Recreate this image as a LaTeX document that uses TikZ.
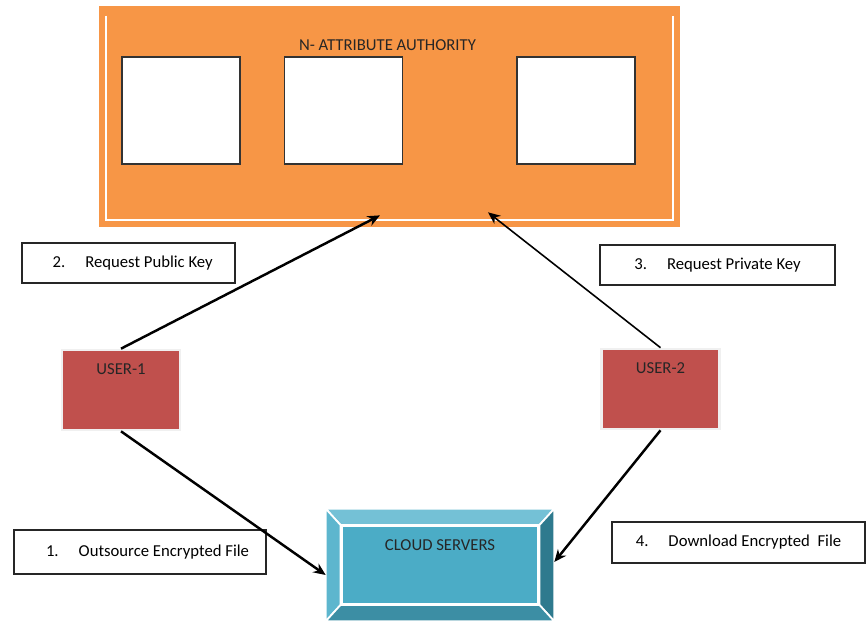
\documentclass[tikz,border=0pt]{standalone}
\usepackage{fontspec}
\setmainfont{Carlito}
\usepackage{tikz}
\usetikzlibrary{arrows.meta,positioning}
\definecolor{naranjaAA}{HTML}{F79646}
\definecolor{rojoUsr}{HTML}{C0504D}
\definecolor{azulNube}{HTML}{4BACC6}
\definecolor{azulClaro}{HTML}{74C1D6}
\definecolor{azulMedio}{HTML}{5DB6CE}
\definecolor{azulOscuro}{HTML}{2E7A8E}
\definecolor{azulFondo}{HTML}{3C8EA4}

\begin{document}
\begin{tikzpicture}[
  auth/.style   = {rectangle, minimum width=11.62cm, minimum height=4.42cm,
                   fill=naranjaAA, draw=none},
  slot/.style   = {rectangle, minimum width=2.36cm, minimum height=2.14cm,
                   fill=white, draw=black!80, thick},
  user/.style   = {rectangle, minimum width=2.36cm, minimum height=1.6cm,
                   fill=rojoUsr, draw=black!6, line width=1.5pt},
  tag/.style    = {rectangle, minimum height=0.8cm, fill=white,
                   draw=black!85, thick, font=\fontsize{9.5}{11}\selectfont},
  link/.style   = {-{Stealth[length=7pt,width=6pt]}, line width=1.4pt, color=black},
  every node/.style={align=center},
]
\useasboundingbox (0,0) rectangle (17.34,12.44);

% ── Autoridad de atributos ───────────────────────────────────
\node[auth] (aa) at (7.79,10.11) {};
\draw[white, line width=1pt] ([shift={(0.14,-0.2)}]aa.north west) -- ([shift={(0.14,0.14)}]aa.south west)
      -- ([shift={(-0.14,0.14)}]aa.south east) -- ([shift={(-0.14,-0.2)}]aa.north east);
\node[font=\fontsize{9.5}{11}\selectfont, text=black!85] (aatitle) at (7.75,11.54) {N- ATTRIBUTE AUTHORITY};
\node[slot] (s1) at (3.62,10.23)  {};
\node[slot] (s2) at (6.87,10.23)  {};
\node[slot] (s3) at (11.52,10.23) {};

% ── Usuarios ─────────────────────────────────────────────────
\node[user, label={[anchor=north, yshift=-0.18cm, font=\fontsize{9.5}{11}\selectfont, text=black!85]north:USER-1}] (u1) at (2.42,4.64) {};
\node[user, label={[anchor=north, yshift=-0.18cm, font=\fontsize{9.5}{11}\selectfont, text=black!85]north:USER-2}] (u2) at (13.21,4.66) {};

% ── Servidores en la nube ────────────────────────────────────
\node[rectangle, minimum width=4.52cm, minimum height=2.2cm, fill=azulFondo, draw=black!6, line width=1.5pt] (cloud) at (8.8,1.14) {};
\node[rectangle, minimum width=3.94cm, minimum height=1.56cm, fill=azulNube, draw=white, line width=1.2pt] (cloudin) at (8.8,1.14) {};
\fill[azulClaro, draw=white, line width=1pt] (cloud.north west) -- (cloud.north east) -- (cloudin.north east) -- (cloudin.north west) -- cycle;
\fill[azulMedio, draw=white, line width=1pt] (cloud.north west) -- (cloudin.north west) -- (cloudin.south west) -- (cloud.south west) -- cycle;
\fill[azulOscuro, draw=white, line width=1pt] (cloud.north east) -- (cloudin.north east) -- (cloudin.south east) -- (cloud.south east) -- cycle;
\fill[azulFondo, draw=white, line width=1pt] (cloud.south west) -- (cloudin.south west) -- (cloudin.south east) -- (cloud.south east) -- cycle;
\node[font=\fontsize{9.5}{11}\selectfont, text=black!85] (cloudtxt) at (8.8,1.54) {CLOUD SERVERS};

% ── Etiquetas de pasos ───────────────────────────────────────
\node[tag, minimum width=4.26cm] (pub)  at (2.57,7.18)  {\hspace{0.5em}2.\hspace{1.2em}Request Public Key};
\node[tag, minimum width=4.7cm]  (priv) at (14.35,7.14) {3.\hspace{1.2em}Request Private Key};
\node[tag, minimum width=5.04cm, minimum height=0.88cm] (out)  at (2.8,1.4)   {\hspace{0.9em}1.\hspace{1.2em}Outsource Encrypted File};
\node[tag, minimum width=5.06cm, minimum height=0.82cm] (down) at (14.77,1.59) {4.\hspace{1.2em}Download Encrypted\ \ File};

% ── Flujos ───────────────────────────────────────────────────
\draw[link] (u1.north) -- ([shift={(-0.19,0.24)}]aa.south);
\draw[link, line width=0.9pt] (u2.north) -- ([shift={(1.97,0.3)}]aa.south);
\draw[link] (u1.south) -- ([yshift=-0.2cm]cloud.west);
\draw[link] (u2.south) -- ([yshift=0.06cm]cloud.east);

\end{tikzpicture}
\end{document}
